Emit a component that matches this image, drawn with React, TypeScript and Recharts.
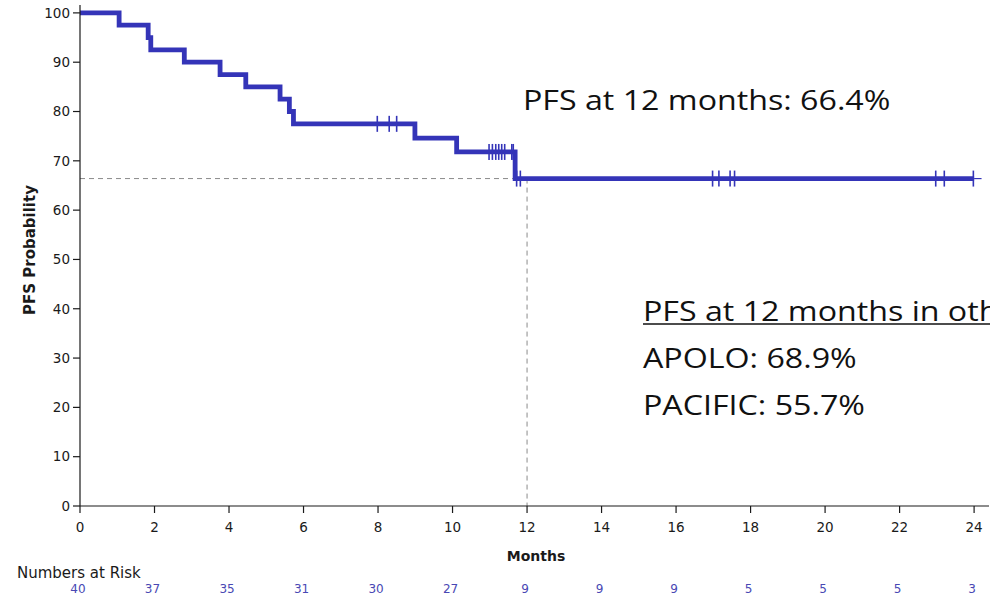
import React from "react";
import {
  ComposedChart,
  Line,
  Scatter,
  XAxis,
  YAxis,
  ReferenceLine,
} from "recharts";

// Kaplan–Meier step curve: time in months, PFS probability in %
const stepMonths = [0, 1.05, 1.83, 1.9, 2.8, 3.76, 4.45, 5.37, 5.62, 5.73, 8.99, 10.11, 11.68, 24];
const stepPfs = [100, 97.5, 95, 92.5, 90, 87.5, 85, 82.5, 80, 77.5, 74.6, 71.8, 66.4, 66.4];

// Censored observations (months)
const censorMonths = [
  7.98, 8.3, 8.5, 10.98, 11.07, 11.16, 11.24, 11.32, 11.4, 11.59, 11.63,
  11.72, 11.82, 16.98, 17.15, 17.45, 17.57, 22.97, 23.2, 23.98,
];

// Axis ticks and numbers at risk
const monthTicks = [0, 2, 4, 6, 8, 10, 12, 14, 16, 18, 20, 22, 24];
const numbersAtRisk = [40, 37, 35, 31, 30, 27, 9, 9, 9, 5, 5, 5, 3];
const pfsTicks = [0, 10, 20, 30, 40, 50, 60, 70, 80, 90, 100];

const landmarkMonth = 12;
const landmarkPfs = 66.4;

const curve = stepMonths.map((t, i) => ({ t, s: stepPfs[i] }));

// Probability at time t (right-continuous)
const pfsAt = (t: number) => {
  let v = stepPfs[0];
  for (let i = 0; i < stepMonths.length; i++) {
    if (stepMonths[i] <= t) v = stepPfs[i];
  }
  return v;
};
const censors = censorMonths.map((t) => ({ t, s: pfsAt(t) }));

const BLUE = "#3434b8";
const AXIS = "#1a1a1a";
const SANS = "'DejaVu Sans', sans-serif";
const SLIDE = "'Open Sans', 'Noto Sans', sans-serif";

const CensorMark = (props: any) => {
  const { cx, cy } = props;
  if (cx == null || cy == null) return null;
  return <line x1={cx} x2={cx} y1={cy - 8} y2={cy + 8} stroke={BLUE} strokeWidth={1.6} />;
};

const MonthTick = (props: any) => {
  const { x, payload, index } = props;
  return (
    <g>
      <text x={x} y={532} textAnchor="middle" fontFamily={SANS} fontSize={13.5} fill={AXIS}>
        {payload.value}
      </text>
      <text x={x - 2} y={593} textAnchor="middle" fontFamily={SANS} fontSize={12} fill="#4848b4">
        {numbersAtRisk[index]}
      </text>
      {index === 0 && (
        <text x={17} y={578} fontFamily={SANS} fontSize={15} fill={AXIS}>
          Numbers at Risk
        </text>
      )}
    </g>
  );
};

const SCALE_X = 1.15;

const SlideText = ({ x, y, children }: { x: number; y: number; children: React.ReactNode }) => (
  <text
    transform={`translate(${x},${y}) scale(${SCALE_X},1)`}
    fontFamily={SLIDE}
    fontSize={28}
    fill="#111"
  >
    {children}
  </text>
);

export default function App() {
  return (
    <div
      style={{
        position: "absolute",
        left: 0,
        top: 0,
        width: 990,
        height: 596,
        overflow: "hidden",
        background: "#fff",
      }}
    >
      <ComposedChart width={990} height={596} margin={{ top: 5, right: 1, bottom: 0, left: 0 }}>
        <XAxis
          type="number"
          dataKey="t"
          domain={[0, 24.4]}
          ticks={monthTicks}
          height={90}
          tickSize={7}
          tick={<MonthTick />}
          axisLine={{ stroke: AXIS, strokeWidth: 1.2 }}
          tickLine={{ stroke: AXIS, strokeWidth: 1.2 }}
          allowDataOverflow
        />
        <YAxis
          type="number"
          dataKey="s"
          domain={[0, 101.6]}
          ticks={pfsTicks}
          width={80}
          tickSize={7}
          tickMargin={3}
          tick={{ fontFamily: SANS, fontSize: 13.5, fill: AXIS }}
          axisLine={{ stroke: AXIS, strokeWidth: 1.2 }}
          tickLine={{ stroke: AXIS, strokeWidth: 1.2 }}
          allowDataOverflow
        />
        <ReferenceLine
          segment={[
            { x: 0, y: landmarkPfs },
            { x: landmarkMonth, y: landmarkPfs },
          ]}
          stroke="#8a8a8a"
          strokeWidth={1}
          strokeDasharray="5 4"
        />
        <ReferenceLine
          segment={[
            { x: landmarkMonth, y: landmarkPfs },
            { x: landmarkMonth, y: 0 },
          ]}
          stroke="#8a8a8a"
          strokeWidth={1}
          strokeDasharray="5 4"
        />
        <ReferenceLine
          segment={[
            { x: 24, y: landmarkPfs },
            { x: 24.2, y: landmarkPfs },
          ]}
          stroke={BLUE}
          strokeWidth={1.2}
        />
        <Line
          data={curve}
          type="stepAfter"
          dataKey="s"
          stroke={BLUE}
          strokeWidth={4.8}
          dot={false}
          activeDot={false}
          isAnimationActive={false}
        />
        <Scatter data={censors} dataKey="s" shape={<CensorMark />} isAnimationActive={false} />
      </ComposedChart>

      <svg
        width={990}
        height={596}
        style={{ position: "absolute", left: 0, top: 0, pointerEvents: "none" }}
      >
        <text
          transform="translate(35,250) rotate(-90)"
          textAnchor="middle"
          fontFamily={SANS}
          fontWeight="bold"
          fontSize={15}
          fill={AXIS}
        >
          PFS Probability
        </text>
        <text x={536} y={561} textAnchor="middle" fontFamily={SANS} fontWeight="bold" fontSize={14} fill={AXIS}>
          Months
        </text>

        <SlideText x={523} y={110}>PFS at 12 months: 66.4%</SlideText>
        <SlideText x={643} y={321}>PFS at 12 months in other trials:</SlideText>
        <line x1={643} x2={990} y1={324} y2={324} stroke="#111" strokeWidth={1.5} />
        <SlideText x={643} y={368}>APOLO: 68.9%</SlideText>
        <SlideText x={643} y={415}>PACIFIC: 55.7%</SlideText>
      </svg>
    </div>
  );
}
